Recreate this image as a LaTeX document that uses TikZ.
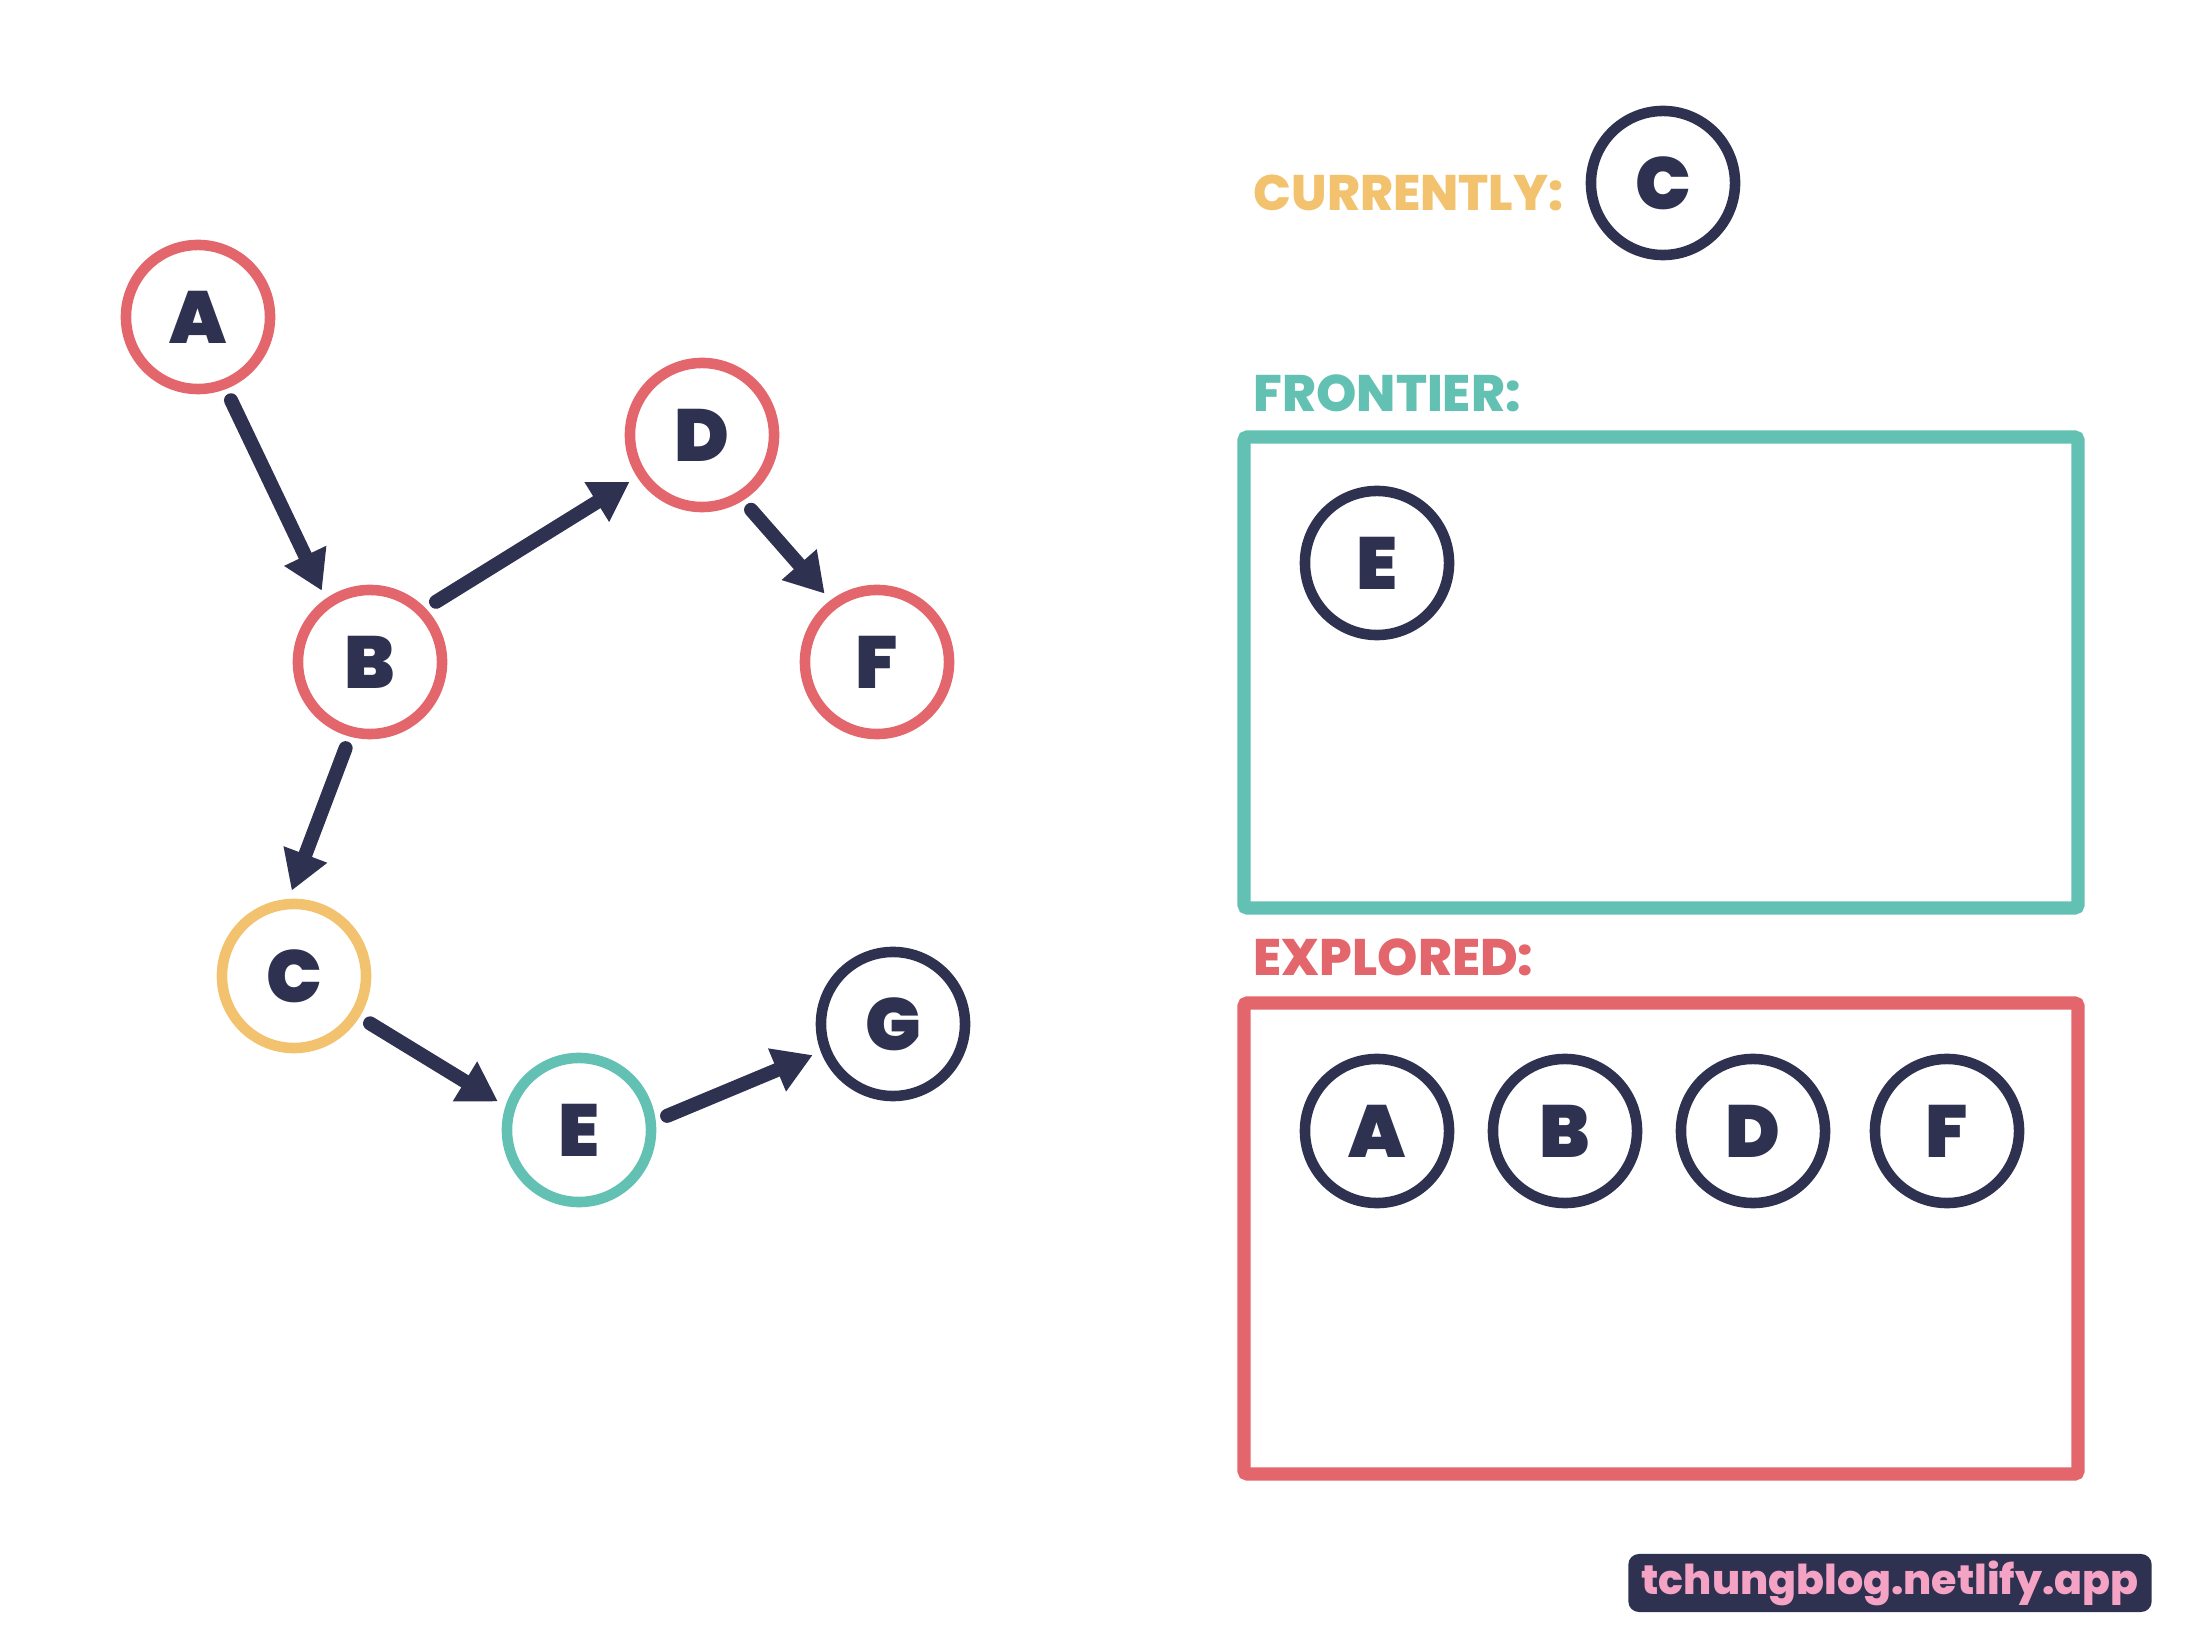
\documentclass[tikz,border=0pt]{standalone}
\usepackage{fontspec}
\setmainfont{Poppins}[BoldFont={* ExtraBold}]
\newfontfamily\blackfont{Poppins Black}
\usetikzlibrary{arrows.meta}

\definecolor{navy}{HTML}{2E3150}
\definecolor{redc}{HTML}{E3666C}
\definecolor{teal}{HTML}{62C1B2}
\definecolor{gold}{HTML}{F2C26E}
\definecolor{pinkc}{HTML}{F4A3C4}

\tikzset{
  vtx/.style={circle, draw=#1, line width=3pt, minimum size=1.44cm, inner sep=0pt,
    text=navy, font=\fontsize{21}{21}\selectfont\blackfont},
  vtx/.default=navy,
  edge/.style={navy, line width=4pt, line cap=round,
    -{Triangle[length=11pt,width=12.5pt]}, shorten >=2.5pt, shorten <=3.5pt},
  lbl/.style={anchor=west, inner sep=0pt, font=\fontsize{14.6}{14.6}\selectfont\bfseries},
  listbox/.style={draw=#1, line width=3.8pt, rounded corners=1pt}
}

\begin{document}
\begin{tikzpicture}[x=0.01cm, y=-0.01cm]
 \useasboundingbox (0,0) rectangle (2187,1640);

% Graph
 \node[vtx=redc] (A) at (198,317) {A};
 \node[vtx=redc] (B) at (370,662) {B};
 \node[vtx=redc] (D) at (702,435) {D};
 \node[vtx=redc] (F) at (877,662) {F};
 \node[vtx=gold] (C) at (294,976) {C};
 \node[vtx=teal] (E) at (579,1130) {E};
 \node[vtx] (G) at (893,1024) {G};

% Arrows
 \draw[edge] (A.291) -- (B.125);
 \draw[edge] (B.44) -- (D.213);
 \draw[edge] (D.302) -- (F.127);
 \draw[edge] (B.255) -- (C.94);
 \draw[edge] (C.328) -- (E.162);
 \draw[edge] (E.7) -- (G.201);

% Currently
 \node[lbl, text=gold, font=\fontsize{14.2}{14.2}\selectfont\bfseries] (curlbl) at (1253,193) {CURRENTLY:};
 \node[vtx] (cur) at (1663,183) {C};

% Frontier
 \node[lbl, text=teal] (frlbl) at (1253,393) {FRONTIER:};
 \draw[listbox=teal] (1244,437) rectangle (2078,908);
 \node[vtx] (frE) at (1377,563) {E};

% Explored
 \node[lbl, text=redc] (exlbl) at (1253,957) {EXPLORED:};
 \draw[listbox=redc] (1244,1003) rectangle (2078,1474);
 \node[vtx] (exA) at (1377,1131) {A};
 \node[vtx] (exB) at (1565,1131) {B};
 \node[vtx] (exD) at (1753,1131) {D};
 \node[vtx] (exF) at (1947,1131) {F};

% Watermark
 \node[fill=navy, rounded corners=3pt, minimum width=5.23cm, minimum height=0.58cm,
   inner sep=0pt, text=pinkc, font=\fontsize{11.7}{11.7}\selectfont\bfseries]
   (mark) at (1890,1583) {tchungblog.netlify.app};

\end{tikzpicture}
\end{document}
